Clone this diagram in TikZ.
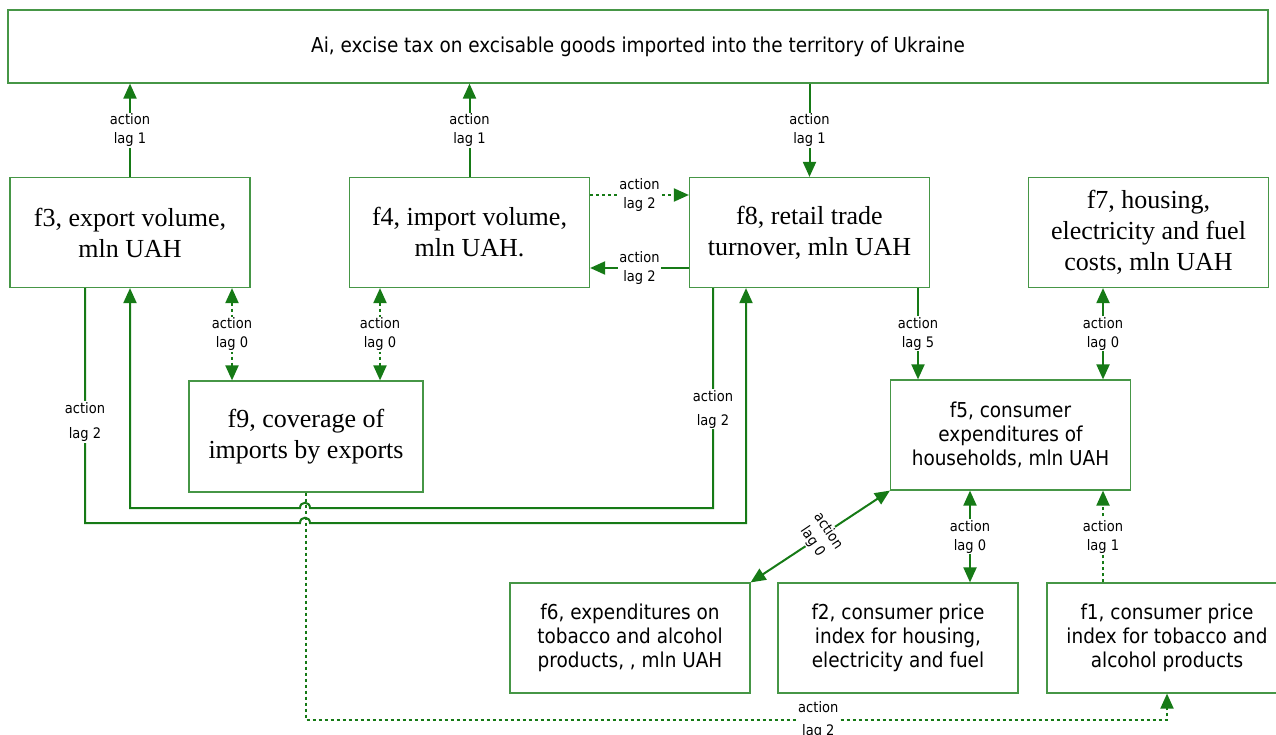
\documentclass[tikz,border=0pt]{standalone}
\usepackage{fontspec}
\setmainfont{Liberation Serif}
\newfontfamily\tahoma{DejaVu Sans Condensed}
\usetikzlibrary{arrows.meta}
\definecolor{arrowgreen}{RGB}{22,122,22}
\definecolor{boxgreen}{RGB}{70,150,70}

\begin{document}
\begin{tikzpicture}[x=1pt,y=-1pt,
    >={Triangle[length=15pt,width=13pt]},
    factor/.style={draw=boxgreen,line width=1.2pt,minimum width=240pt,minimum height=110pt,
      align=center,inner sep=2pt,font=\fontsize{26}{31}\selectfont},
    sfactor/.style={factor,font=\tahoma\fontsize{20.5}{24}\selectfont},
    link/.style={draw=arrowgreen,line width=2pt},
    weak/.style={link,dash pattern=on 3pt off 3pt},
    lag/.style={fill=white,align=center,inner sep=1pt,font=\tahoma\fontsize{14.5}{19}\selectfont}]
  \useasboundingbox (0,0) rectangle (1276,735);

  % factors
  \node[sfactor,minimum width=1260pt,minimum height=73pt] (ai) at (638,46.5)
    {Ai, excise tax on excisable goods imported into the territory of Ukraine};
  \node[factor] (f3) at (130,232.5) {f3, export volume,\\mln UAH};
  \node[factor] (f4) at (469.5,232.5) {f4, import volume,\\mln UAH.};
  \node[factor] (f8) at (809.5,232.5) {f8, retail trade\\turnover, mln UAH};
  \node[factor] (f7) at (1148.5,232.5) {f7, housing,\\electricity and fuel\\costs, mln UAH};
  \node[factor,minimum width=234pt,minimum height=111pt] (f9) at (306,436.5)
    {f9, coverage of\\imports by exports};
  \node[sfactor] (f5) at (1010.5,435) {f5, consumer\\expenditures of\\households, mln UAH};
  \node[sfactor] (f6) at (630,638) {f6, expenditures on\\tobacco and alcohol\\products, , mln UAH};
  \node[sfactor] (f2) at (898,638) {f2, consumer price\\index for housing,\\electricity and fuel};
  \node[sfactor] (f1) at (1167,638) {f1, consumer price\\index for tobacco and\\alcohol products};

  % links to the tax
  \draw[link,->] (f3.north) -- node[lag]{action\\lag 1} (f3.north |- ai.south);
  \draw[link,->] (f4.north) -- node[lag]{action\\lag 1} (f4.north |- ai.south);
  \draw[link,->] (f8.north |- ai.south) -- node[lag]{action\\lag 1} (f8.north);

  % trade
  \draw[weak,->] (f4.east |- 0,195) -- node[lag]{action\\lag 2} (f8.west |- 0,195);
  \draw[link,->] (f8.west |- 0,268) -- node[lag]{action\\lag 2} (f4.east |- 0,268);
  \draw[weak,<->] (232,0 |- f3.south) -- node[lag]{action\\lag 0} (232,0 |- f9.north);
  \draw[weak,<->] (380,0 |- f4.south) -- node[lag]{action\\lag 0} (380,0 |- f9.north);

  % households
  \draw[link,->] (918,0 |- f8.south) -- node[lag]{action\\lag 5} (918,0 |- f5.north);
  \draw[link,<->] (1103,0 |- f7.south) -- node[lag]{action\\lag 0} (1103,0 |- f5.north);
  \draw[link,<->] (970,0 |- f5.south) -- node[lag]{action\\lag 0} (970,0 |- f2.north);
  \draw[weak,->] (1103,0 |- f1.north) -- node[lag]{action\\lag 1} (1103,0 |- f5.south);
  \draw[link,<->] (f5.south west) -- node[lag,rotate=-56]{action\\lag 0} (f6.north east);

  % long loops, with hops over the f9 line
  \draw[link,->] (713,0 |- f8.south) -- node[lag,pos=0.55]{action\\[5pt]lag 2} (713,508)
    -- (310,508) .. controls (310,501) and (300,501) .. (300,508) -- (130,508) -- (f3.south);
  \draw[link,->] (85,0 |- f3.south) -- node[lag,pos=0.57]{action\\[6pt]lag 2} (85,523)
    -- (300,523) .. controls (300,516) and (310,516) .. (310,523) -- (746,523) -- (746,0 |- f8.south);
  \draw[weak,->] (f9.south) -- (f9.south |- 0,720)
    -- node[lag,pos=0.595]{action\\[4pt]lag 2} (f1.south |- 0,720) -- (f1.south);
\end{tikzpicture}
\end{document}
